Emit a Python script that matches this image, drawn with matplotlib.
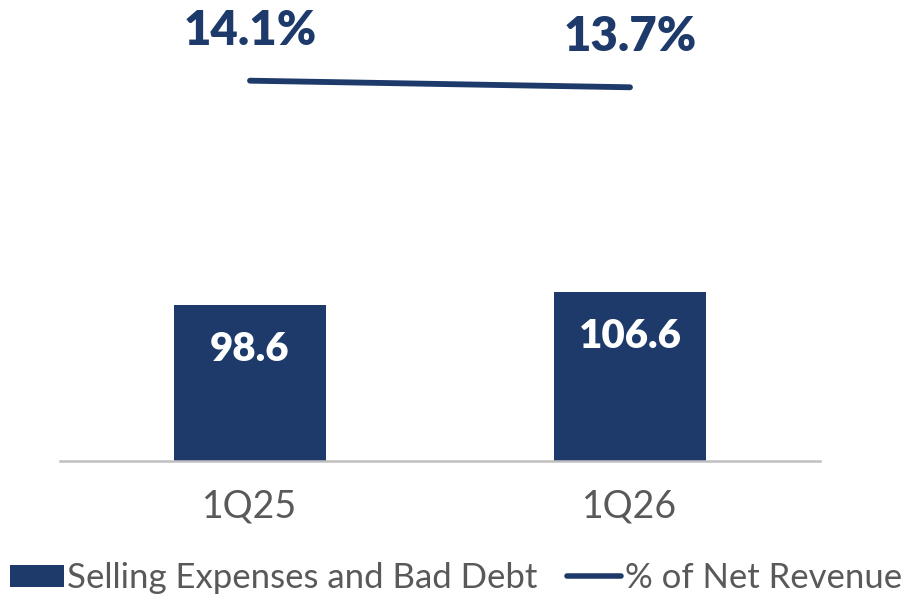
import matplotlib
matplotlib.use("Agg")
import matplotlib.pyplot as plt
from matplotlib.patches import Patch
from matplotlib.lines import Line2D

quarters = ["1Q25", "1Q26"]
selling_expenses = [98.6, 106.6]
pct_net_revenue = [14.1, 13.7]

navy = "#1d3a6b"
grey_txt = "#595959"

plt.rcParams["font.family"] = ["Lato", "DejaVu Sans"]

fig = plt.figure(figsize=(9.12, 5.97), dpi=100)
ax1 = fig.add_axes([60 / 912, 1 - 461 / 597, 760 / 912, 461 / 597])
ax2 = ax1.twinx()

x = list(range(len(quarters)))
bars = ax1.bar(x, selling_expenses, width=0.4, color=navy, zorder=2)
ax1.set_xlim(-0.5, 1.5)
ax1.set_ylim(0, 291.4)

for xi, v in zip(x, selling_expenses):
    ax1.annotate("{:.1f}".format(v), (xi, v), xytext=(0, -32), textcoords="offset points",
                 ha="center", va="center", color="white", fontsize=29, fontweight="heavy")

ax2.plot(x, pct_net_revenue, color=navy, linewidth=4.2, solid_capstyle="round", zorder=3)
ax2.set_ylim(-8.95, 18.99)
for xi, v in zip(x, pct_net_revenue):
    ax2.annotate("{:.1f}%".format(v), (xi, v), xytext=(0, 36), textcoords="offset points",
                 ha="center", va="center", color=navy, fontsize=34, fontweight="heavy")

for ax in (ax1, ax2):
    for side in ("top", "right", "left"):
        ax.spines[side].set_visible(False)
    ax.set_yticks([])
ax2.spines["bottom"].set_visible(False)
ax1.spines["bottom"].set_color("#c0c0c0")
ax1.spines["bottom"].set_linewidth(1.8)

ax1.set_xticks(x)
ax1.set_xticklabels(quarters, fontsize=27, color=grey_txt)
ax1.tick_params(axis="x", length=0, pad=20)

handles = [Patch(facecolor=navy, edgecolor="none"),
           Line2D([0], [0], color=navy, linewidth=4, solid_capstyle="round")]
fig.legend(handles, ["Selling Expenses and Bad Debt", "% of Net Revenue"],
           loc="center", bbox_to_anchor=(0.5, 1 - 578 / 597), ncol=2, frameon=False,
           fontsize=25, labelcolor=grey_txt, handlelength=1.55, handleheight=0.62,
           handletextpad=0.1, columnspacing=0.85, borderaxespad=0)

fig.savefig("out.png", dpi=100)
